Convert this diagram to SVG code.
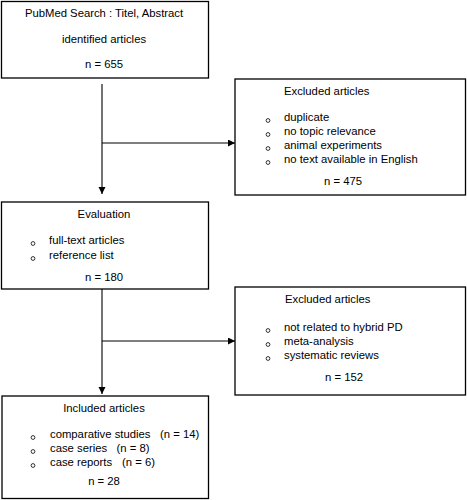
<svg xmlns="http://www.w3.org/2000/svg" width="467" height="500" viewBox="0 0 467 500">
<defs>
<style>
.box{fill:#fff;stroke:#000;stroke-width:1.3}
text{font-family:"Liberation Sans",Arial,sans-serif;font-size:11.3px;fill:#000}
.c{text-anchor:middle}
.b{fill:none;stroke:#000;stroke-width:0.8}
.ln{fill:none;stroke:#000;stroke-width:1.1}
</style>
<marker id="ah" markerUnits="userSpaceOnUse" markerWidth="8" markerHeight="8" refX="7" refY="3.5" orient="auto">
<path d="M0,0 L7,3.5 L0,7 Z" fill="#000"/>
</marker>
</defs>
<rect width="467" height="500" fill="#fff"/>
<g id="connectors">
<path class="ln" d="M102,84 V194" marker-end="url(#ah)"/>
<path class="ln" d="M102,143 H235" marker-end="url(#ah)"/>
<path class="ln" d="M102,289 V394" marker-end="url(#ah)"/>
<path class="ln" d="M102,341 H235" marker-end="url(#ah)"/>
</g>
<g id="search">
<rect class="box" x="1.5" y="1.5" width="207" height="76.5"/>
<text class="c" x="104" y="17">PubMed Search : Titel, Abstract</text>
<text class="c" x="104" y="43">identified articles</text>
<text class="c" x="104" y="68">n = 655</text>
</g>
<g id="excluded1">
<rect class="box" x="235" y="79" width="230.5" height="116"/>
<text x="284" y="95">Excluded articles</text>
<circle class="b" cx="268" cy="120.5" r="1.9"/>
<circle class="b" cx="268" cy="134.5" r="1.9"/>
<circle class="b" cx="268" cy="148.5" r="1.9"/>
<circle class="b" cx="268" cy="162.5" r="1.9"/>
<text x="284" y="121">duplicate</text>
<text x="284" y="135">no topic relevance</text>
<text x="284" y="149">animal experiments</text>
<text x="284" y="163">no text available in English</text>
<text class="c" x="343" y="185">n = 475</text>
</g>
<g id="evaluation">
<rect class="box" x="1.5" y="202" width="207" height="87"/>
<text class="c" x="104" y="218">Evaluation</text>
<circle class="b" cx="33" cy="243.5" r="1.9"/>
<circle class="b" cx="33" cy="258.5" r="1.9"/>
<text x="49" y="244">full-text articles</text>
<text x="49" y="259">reference list</text>
<text class="c" x="104" y="281">n = 180</text>
</g>
<g id="excluded2">
<rect class="box" x="235" y="287" width="230.5" height="108"/>
<text x="285" y="303">Excluded articles</text>
<circle class="b" cx="268" cy="330.5" r="1.9"/>
<circle class="b" cx="268" cy="344.5" r="1.9"/>
<circle class="b" cx="268" cy="358.5" r="1.9"/>
<text x="284" y="331">not related to hybrid PD</text>
<text x="284" y="345">meta-analysis</text>
<text x="284" y="359">systematic reviews</text>
<text class="c" x="344" y="381">n = 152</text>
</g>
<g id="included">
<rect class="box" x="2" y="396" width="206.5" height="102.5"/>
<text class="c" x="104" y="412">Included articles</text>
<circle class="b" cx="33" cy="437.5" r="1.9"/>
<circle class="b" cx="33" cy="451.5" r="1.9"/>
<circle class="b" cx="33" cy="465.5" r="1.9"/>
<text x="50" y="438">comparative studies</text>
<text x="160" y="438">(n = 14)</text>
<text x="50" y="452">case series</text>
<text x="116.5" y="452">(n = 8)</text>
<text x="50" y="466">case reports</text>
<text x="122" y="466">(n = 6)</text>
<text class="c" x="104" y="485">n = 28</text>
</g>
</svg>
